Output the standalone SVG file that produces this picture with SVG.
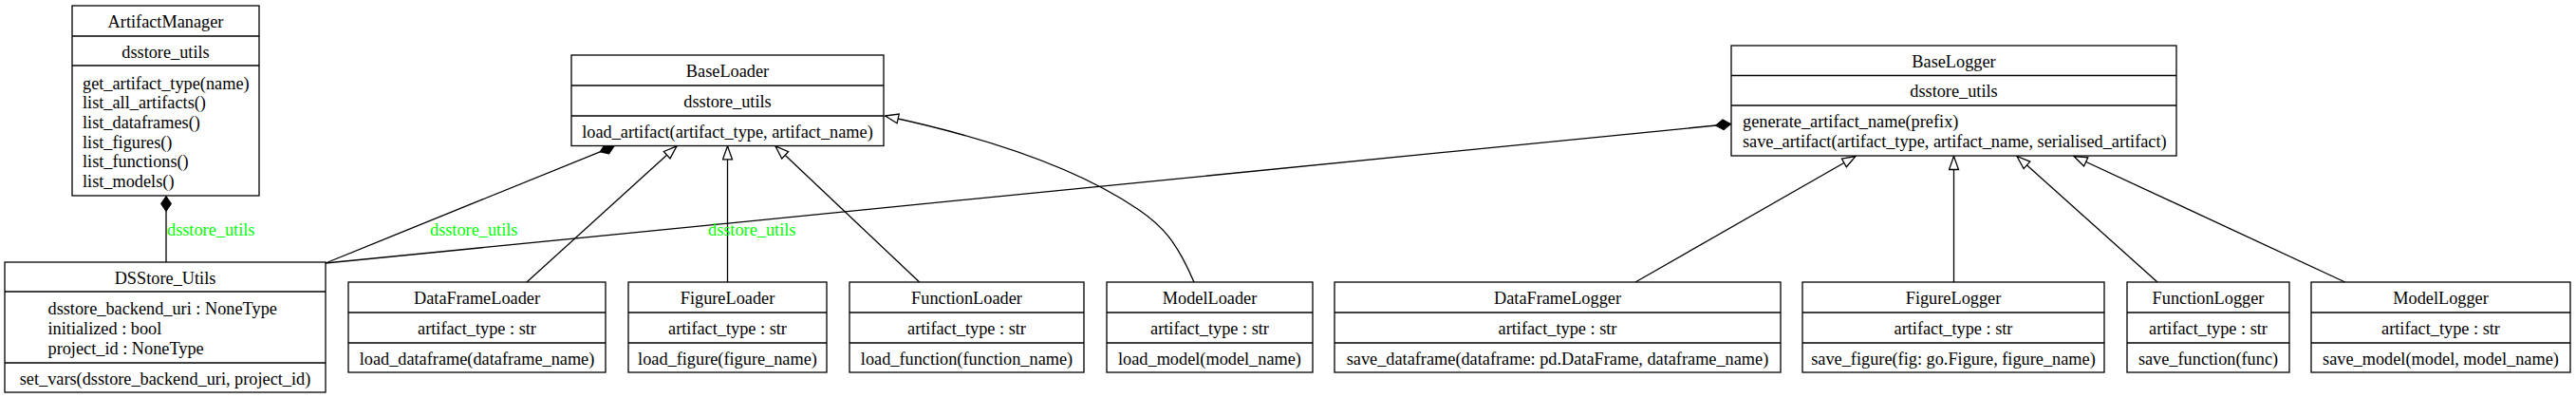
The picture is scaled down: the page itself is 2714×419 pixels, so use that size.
<svg xmlns="http://www.w3.org/2000/svg" width="2714" height="419" viewBox="0 0 2714 419">
<style>
.box{fill:#fff;stroke:#000;stroke-width:1.3}
.div{stroke:#000;stroke-width:1.3}
.t{font-family:"Liberation Serif","Times New Roman",serif;font-size:18.3px;fill:#000}
.c{text-anchor:middle}
.e{fill:none;stroke:#000;stroke-width:1.3}
.inh{marker-end:url(#tri)}
.comp{marker-end:url(#dia)}
.lbl{font-family:"Liberation Serif","Times New Roman",serif;font-size:18.3px;fill:#00ff00}
</style>
<defs>
<marker id="tri" viewBox="-1 -1 16 12" markerWidth="16" markerHeight="12" refX="14" refY="5" orient="auto" markerUnits="userSpaceOnUse">
<path d="M0,0 L14,5 L0,10 Z" fill="#fff" stroke="#000" stroke-width="1.3"/>
</marker>
<marker id="dia" viewBox="-1 -1 18 13" markerWidth="18" markerHeight="13" refX="16" refY="5.5" orient="auto" markerUnits="userSpaceOnUse">
<path d="M0,5.5 L8,0 L16,5.5 L8,11 Z" fill="#000" stroke="#000" stroke-width="1"/>
</marker>
</defs>
<rect width="2714" height="419" fill="#fff"/>

<g id="edges">
<path class="e comp" d="M175,276 L175,206.5"/>
<path class="e comp" d="M343,277 L647,153.8"/>
<path class="e comp" d="M343,277 L1823.5,130.5"/>
<path class="e inh" d="M555,297 L713,153.8"/>
<path class="e inh" d="M766.5,297 L766.5,153.8"/>
<path class="e inh" d="M968.7,297 L817,153.8"/>
<path class="e inh" d="M1258,297 C1240,255 1225,238 1200,221 C1140,180 1050,147 932.5,122"/>
<path class="e inh" d="M1723,297 L1955,164.5"/>
<path class="e inh" d="M2058.5,297 L2058.5,164.5"/>
<path class="e inh" d="M2273,297 L2125,164.5"/>
<path class="e inh" d="M2470.7,297 L2185,164.5"/>
<text class="lbl" x="176" y="248">dsstore_utils</text>
<text class="lbl" x="453" y="248">dsstore_utils</text>
<text class="lbl" x="746" y="248">dsstore_utils</text>
</g>

<g id="ArtifactManager">
<rect class="box" x="76" y="6" width="197" height="200"/>
<line class="div" x1="76" y1="38" x2="273" y2="38"/>
<line class="div" x1="76" y1="69" x2="273" y2="69"/>
<text class="t c" x="174.5" y="28.5">ArtifactManager</text>
<text class="t c" x="174.5" y="60.5">dsstore_utils</text>
<text class="t" x="87" y="93.5">get_artifact_type(name)</text>
<text class="t" x="87" y="114.2">list_all_artifacts()</text>
<text class="t" x="87" y="134.9">list_dataframes()</text>
<text class="t" x="87" y="155.6">list_figures()</text>
<text class="t" x="87" y="176.3">list_functions()</text>
<text class="t" x="87" y="197">list_models()</text>
</g>

<g id="DSStore_Utils">
<rect class="box" x="5" y="276" width="338" height="137"/>
<line class="div" x1="5" y1="307" x2="343" y2="307"/>
<line class="div" x1="5" y1="382" x2="343" y2="382"/>
<text class="t c" x="174" y="298.5">DSStore_Utils</text>
<text class="t" x="50.5" y="331">dsstore_backend_uri : NoneType</text>
<text class="t" x="50.5" y="352">initialized : bool</text>
<text class="t" x="50.5" y="373">project_id : NoneType</text>
<text class="t c" x="174" y="405">set_vars(dsstore_backend_uri, project_id)</text>
</g>

<g id="BaseLoader">
<rect class="box" x="602" y="58" width="329" height="95.5"/>
<line class="div" x1="602" y1="90" x2="931" y2="90"/>
<line class="div" x1="602" y1="122" x2="931" y2="122"/>
<text class="t c" x="766.5" y="81">BaseLoader</text>
<text class="t c" x="766.5" y="112.5">dsstore_utils</text>
<text class="t c" x="766.5" y="144.5">load_artifact(artifact_type, artifact_name)</text>
</g>

<g id="BaseLogger">
<rect class="box" x="1824" y="48" width="469" height="116"/>
<line class="div" x1="1824" y1="79.5" x2="2293" y2="79.5"/>
<line class="div" x1="1824" y1="111" x2="2293" y2="111"/>
<text class="t c" x="2058.5" y="70.5">BaseLogger</text>
<text class="t c" x="2058.5" y="102">dsstore_utils</text>
<text class="t" x="1836" y="133.5">generate_artifact_name(prefix)</text>
<text class="t" x="1836" y="154.5">save_artifact(artifact_type, artifact_name, serialised_artifact)</text>
</g>

<g id="DataFrameLoader">
<rect class="box" x="367" y="297" width="271" height="95"/>
<line class="div" x1="367" y1="329" x2="638" y2="329"/>
<line class="div" x1="367" y1="361" x2="638" y2="361"/>
<text class="t c" x="502.5" y="320">DataFrameLoader</text>
<text class="t c" x="502.5" y="352">artifact_type : str</text>
<text class="t c" x="502.5" y="383.5">load_dataframe(dataframe_name)</text>
</g>

<g id="FigureLoader">
<rect class="box" x="662" y="297" width="209" height="95"/>
<line class="div" x1="662" y1="329" x2="871" y2="329"/>
<line class="div" x1="662" y1="361" x2="871" y2="361"/>
<text class="t c" x="766.5" y="320">FigureLoader</text>
<text class="t c" x="766.5" y="352">artifact_type : str</text>
<text class="t c" x="766.5" y="383.5">load_figure(figure_name)</text>
</g>

<g id="FunctionLoader">
<rect class="box" x="895" y="297" width="247" height="95"/>
<line class="div" x1="895" y1="329" x2="1142" y2="329"/>
<line class="div" x1="895" y1="361" x2="1142" y2="361"/>
<text class="t c" x="1018.5" y="320">FunctionLoader</text>
<text class="t c" x="1018.5" y="352">artifact_type : str</text>
<text class="t c" x="1018.5" y="383.5">load_function(function_name)</text>
</g>

<g id="ModelLoader">
<rect class="box" x="1166" y="297" width="217" height="95"/>
<line class="div" x1="1166" y1="329" x2="1383" y2="329"/>
<line class="div" x1="1166" y1="361" x2="1383" y2="361"/>
<text class="t c" x="1274.5" y="320">ModelLoader</text>
<text class="t c" x="1274.5" y="352">artifact_type : str</text>
<text class="t c" x="1274.5" y="383.5">load_model(model_name)</text>
</g>

<g id="DataFrameLogger">
<rect class="box" x="1406" y="297" width="470" height="95"/>
<line class="div" x1="1406" y1="329" x2="1876" y2="329"/>
<line class="div" x1="1406" y1="361" x2="1876" y2="361"/>
<text class="t c" x="1641" y="320">DataFrameLogger</text>
<text class="t c" x="1641" y="352">artifact_type : str</text>
<text class="t c" x="1641" y="383.5">save_dataframe(dataframe: pd.DataFrame, dataframe_name)</text>
</g>

<g id="FigureLogger">
<rect class="box" x="1899" y="297" width="318" height="95"/>
<line class="div" x1="1899" y1="329" x2="2217" y2="329"/>
<line class="div" x1="1899" y1="361" x2="2217" y2="361"/>
<text class="t c" x="2058" y="320">FigureLogger</text>
<text class="t c" x="2058" y="352">artifact_type : str</text>
<text class="t c" x="2058" y="383.5">save_figure(fig: go.Figure, figure_name)</text>
</g>

<g id="FunctionLogger">
<rect class="box" x="2241" y="297" width="171" height="95"/>
<line class="div" x1="2241" y1="329" x2="2412" y2="329"/>
<line class="div" x1="2241" y1="361" x2="2412" y2="361"/>
<text class="t c" x="2326.5" y="320">FunctionLogger</text>
<text class="t c" x="2326.5" y="352">artifact_type : str</text>
<text class="t c" x="2326.5" y="383.5">save_function(func)</text>
</g>

<g id="ModelLogger">
<rect class="box" x="2435" y="297" width="273" height="95"/>
<line class="div" x1="2435" y1="329" x2="2708" y2="329"/>
<line class="div" x1="2435" y1="361" x2="2708" y2="361"/>
<text class="t c" x="2571.5" y="320">ModelLogger</text>
<text class="t c" x="2571.5" y="352">artifact_type : str</text>
<text class="t c" x="2571.5" y="383.5">save_model(model, model_name)</text>
</g>
</svg>
